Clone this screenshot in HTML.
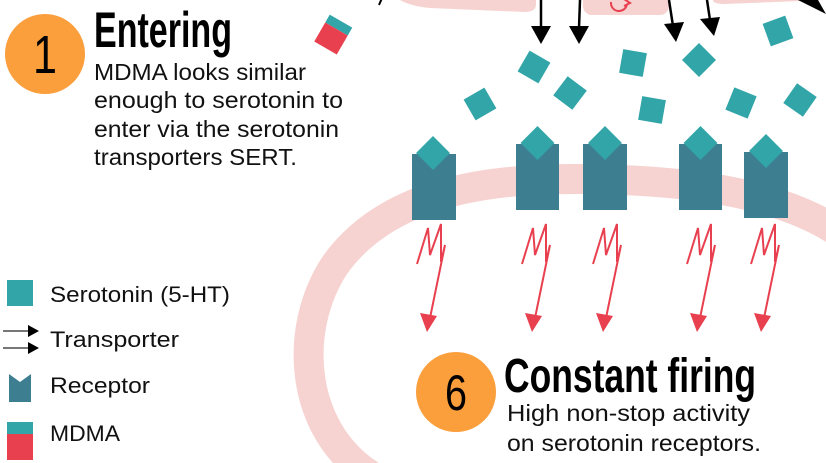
<!DOCTYPE html>
<html><head><meta charset="utf-8"><style>
html,body{margin:0;padding:0;background:#fff;width:826px;height:463px;overflow:hidden}
svg{display:block}
.t{font-family:"Liberation Sans",sans-serif;font-weight:300;fill:#111}
.h{font-family:"Liberation Sans Narrow","Liberation Sans",sans-serif;font-weight:bold;fill:#000}
.n{font-family:"Liberation Sans Narrow","Liberation Sans",sans-serif;fill:#000}
</style></head><body>
<svg width="826" height="463" viewBox="0 0 826 463" xmlns="http://www.w3.org/2000/svg">
<defs>
<g id="lt"><polyline points="417,264 428,228 430,255 441,224 441,262 445,245 430,318" fill="none" stroke="#e8404f" stroke-width="2"/><path d="M420 313 L437 316 L427 332 Z" fill="#e8404f"/></g>
</defs>
<path d="M330 -20 L536 -20 L536 4 Q536 12 525 12 L430 8 Q410 6 400 0 Z" fill="#f6d3d1"/>
<rect x="583" y="-20" width="86" height="35" rx="9" fill="#f6d3d1"/>
<path d="M713 -20 L826 -20 L826 0 L725 4 Q713 4 713 0 Z" fill="#f6d3d1"/>
<path d="M611 2 A8 8 0 0 0 627 4" fill="none" stroke="#e8404f" stroke-width="2"/>
<path d="M624 -1 L630 3 L624 6" fill="none" stroke="#e8404f" stroke-width="2"/>
<line x1="382" y1="-2" x2="379" y2="5" stroke="#000" stroke-width="2"/>
<path d="M370 475 C300 430, 292 330, 335 265 C385 195, 480 178, 580 179 C700 180, 790 195, 850 240" fill="none" stroke="#f6d3d1" stroke-width="30"/>
<g stroke="#000" stroke-width="2.5">
<line x1="541" y1="0" x2="541" y2="28"/><line x1="580" y1="0" x2="579" y2="28"/>
<line x1="669" y1="0" x2="673" y2="26"/><line x1="707" y1="0" x2="710" y2="20"/>
</g>
<g fill="#000">
<path d="M531 26 L551 26 L541 44 Z"/><path d="M569 26 L589 26 L579 44 Z"/>
<path d="M664 24 L684 22 L676 42 Z"/><path d="M700 19 L720 17 L714 36 Z"/>
<path d="M798 0 L818 0 L826 14 Z"/>
</g>
<g transform="translate(333,35) rotate(30)"><rect x="-13" y="-16" width="26" height="9" fill="#31a5a8"/><rect x="-13" y="-7" width="26" height="22" fill="#e8404f"/></g>
<g fill="#31a5a8">
<rect x="-12" y="-12" width="24" height="24" transform="translate(534,67) rotate(30)"/>
<rect x="-12" y="-12" width="24" height="24" transform="translate(570,93) rotate(37)"/>
<rect x="-12" y="-12" width="24" height="24" transform="translate(480,104) rotate(-30)"/>
<rect x="-12" y="-12" width="24" height="24" transform="translate(633,63) rotate(10)"/>
<rect x="-12" y="-12" width="24" height="24" transform="translate(652,110) rotate(10)"/>
<rect x="-12" y="-12" width="24" height="24" transform="translate(699,60) rotate(45)"/>
<rect x="-12" y="-12" width="24" height="24" transform="translate(741,103) rotate(22)"/>
<rect x="-12" y="-12" width="24" height="24" transform="translate(778,31) rotate(-20)"/>
<rect x="-12" y="-12" width="24" height="24" transform="translate(800,100) rotate(35)"/>
</g>
<g>
<rect x="412" y="154" width="44" height="66" fill="#3d7f91"/><rect x="421" y="141" width="24" height="24" fill="#31a5a8" transform="rotate(45 433 153)"/>
<rect x="516" y="144" width="43" height="66" fill="#3d7f91"/><rect x="525.5" y="131" width="24" height="24" fill="#31a5a8" transform="rotate(45 537.5 143)"/>
<rect x="583" y="144" width="44" height="66" fill="#3d7f91"/><rect x="593" y="131" width="24" height="24" fill="#31a5a8" transform="rotate(45 605 143)"/>
<rect x="679" y="144" width="43" height="66" fill="#3d7f91"/><rect x="688.5" y="131" width="24" height="24" fill="#31a5a8" transform="rotate(45 700.5 143)"/>
<rect x="744" y="152" width="44" height="66" fill="#3d7f91"/><rect x="754" y="139" width="24" height="24" fill="#31a5a8" transform="rotate(45 766 151)"/>
</g>
<use href="#lt"/>
<use href="#lt" transform="translate(105,0)"/>
<use href="#lt" transform="translate(176,0)"/>
<use href="#lt" transform="translate(270,0)"/>
<use href="#lt" transform="translate(334,0)"/>
<circle cx="45" cy="54" r="40" fill="#fb9e3c"/>
<text x="45" y="73" text-anchor="middle" class="n" font-size="54" textLength="24" lengthAdjust="spacingAndGlyphs">1</text>
<text x="94" y="47" class="h" font-size="50" textLength="138" lengthAdjust="spacingAndGlyphs">Entering</text>
<text class="t" font-size="23">
<tspan x="94" y="80" textLength="212" lengthAdjust="spacingAndGlyphs">MDMA looks similar</tspan>
<tspan x="94" y="108" textLength="249" lengthAdjust="spacingAndGlyphs">enough to serotonin to</tspan>
<tspan x="94" y="137" textLength="245" lengthAdjust="spacingAndGlyphs">enter via the serotonin</tspan>
<tspan x="94" y="165" textLength="203" lengthAdjust="spacingAndGlyphs">transporters SERT.</tspan>
</text>
<circle cx="456" cy="392" r="40" fill="#fb9e3c"/>
<text x="456" y="410" text-anchor="middle" class="n" font-size="50" textLength="22" lengthAdjust="spacingAndGlyphs">6</text>
<text x="504" y="392" class="h" font-size="48" textLength="252" lengthAdjust="spacingAndGlyphs">Constant firing</text>
<text class="t" font-size="23">
<tspan x="507" y="421" textLength="243" lengthAdjust="spacingAndGlyphs">High non-stop activity</tspan>
<tspan x="507" y="451" textLength="254" lengthAdjust="spacingAndGlyphs">on serotonin receptors.</tspan>
</text>
<rect x="7" y="280" width="26" height="26" fill="#31a5a8"/>
<text x="50" y="302" class="t" font-size="22" textLength="180" lengthAdjust="spacingAndGlyphs">Serotonin (5-HT)</text>
<g stroke="#777" stroke-width="2"><line x1="3" y1="331" x2="30" y2="331"/><line x1="3" y1="348" x2="30" y2="348"/></g>
<path d="M28 325 L39 331 L28 337 Z M28 342 L39 348 L28 354 Z" fill="#000"/>
<text x="50" y="347" class="t" font-size="22" textLength="129" lengthAdjust="spacingAndGlyphs">Transporter</text>
<path d="M9 374 L20 382 L31 374 L31 402 L9 402 Z" fill="#3d7f91"/>
<text x="50" y="393" class="t" font-size="22" textLength="100" lengthAdjust="spacingAndGlyphs">Receptor</text>
<rect x="7" y="422" width="26" height="12" fill="#31a5a8"/><rect x="7" y="434" width="26" height="26" fill="#e8404f"/>
<text x="50" y="441" class="t" font-size="22" textLength="70" lengthAdjust="spacingAndGlyphs">MDMA</text>
</svg>
</body></html>
